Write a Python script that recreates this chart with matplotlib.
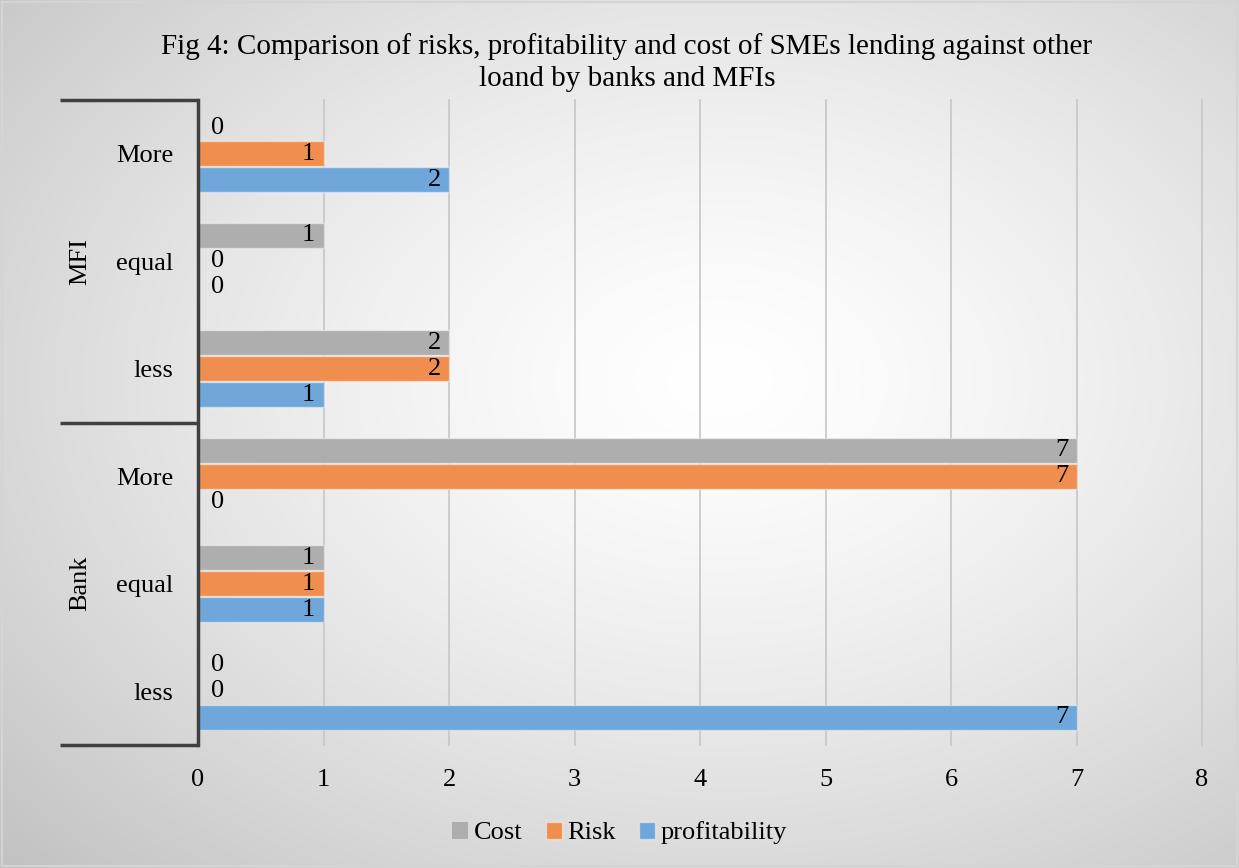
import numpy as np
import matplotlib
matplotlib.use("Agg")
import matplotlib.pyplot as plt
from matplotlib.patches import Rectangle

plt.rcParams['font.family'] = ['Liberation Serif', 'DejaVu Serif']

# data, top to bottom as shown in the chart
groups = ["MFI", "Bank"]
levels = ["More", "equal", "less"]
cost = [0, 1, 2, 7, 1, 0]
risk = [1, 0, 2, 7, 1, 0]
profitability = [2, 0, 1, 0, 1, 7]
series_names = ["Cost", "Risk", "profitability"]
colors = ["#AEAEAE", "#EF8E4E", "#6FA7DA"]
xticks = list(range(0, 9))

title = ("Fig 4: Comparison of risks, profitability and cost of SMEs lending against other\n"
         "loand by banks and MFIs")

fs = 19

fig = plt.figure(figsize=(12.39, 8.68), dpi=100)

# radial gradient background
bg = fig.add_axes([0, 0, 1, 1], zorder=-10)
yy, xx = np.mgrid[0:868, 0:1239]
r = np.sqrt(((xx - 720) / 1239) ** 2 + ((yy - 380) / 868) ** 2)
shade = 1.0 - 0.24 * np.clip(r / 0.8, 0, 1) ** 1.4
bg.imshow(np.dstack([shade] * 3), aspect="auto", extent=[0, 1, 0, 1])
bg.add_patch(Rectangle((0.002, 0.002), 0.996, 0.996, fill=False, ec="#d4d4d4", lw=1.5))
bg.set_axis_off()

ax = fig.add_axes([198 / 1239, 1 - 745 / 868, (1202 - 198) / 1239, (745 - 100) / 868])
ax.set_facecolor("none")

n = len(cost)
ypos = np.arange(n)[::-1]  # top category at highest y
step = 0.242
h = 0.232
all_series = [cost, risk, profitability]
offsets = [step, 0, -step]
handles = []
for vals, off, col, name in zip(all_series, offsets, colors, series_names):
    lws = [0 if v == 0 else 1 for v in vals]
    b = ax.barh(ypos + off, vals, height=h, color=col, edgecolor=(1, 1, 1, 0.45),
                linewidth=lws, label=name, zorder=3)
    handles.append(b)
    for y, v in zip(ypos + off, vals):
        if v == 0:
            ax.annotate(str(v), (0, y), xytext=(9, 0), textcoords="offset points",
                        ha="left", va="center", fontsize=fs, zorder=4)
        else:
            ax.annotate(str(v), (v, y), xytext=(-6, 0), textcoords="offset points",
                        ha="right", va="center", fontsize=fs, zorder=4)

ax.set_xlim(0, 8)
ax.set_ylim(-0.5, n - 0.5)
ax.set_xticks(xticks)
ax.set_xticklabels([str(t) for t in xticks], fontsize=fs)
ax.tick_params(axis="x", length=0, pad=17)
for t in xticks[1:]:
    ax.axvline(t, color="#c6c6c6", linewidth=1.2, zorder=0, clip_on=False)

ax.set_yticks(ypos)
ax.set_yticklabels(levels * len(groups), fontsize=fs)
ax.tick_params(axis="y", length=0, pad=18)

for s in ["top", "right", "bottom"]:
    ax.spines[s].set_visible(False)
ax.spines["left"].set_color("#404040")
ax.spines["left"].set_linewidth(2.5)
ax.spines["left"].set_zorder(5)

# multi-level category separators and group labels
trans = ax.get_yaxis_transform()
x_left = (60 - 198) / (1202 - 198)
for yb in [n - 0.5, n / 2 - 0.5, -0.5]:
    ax.plot([x_left, 0], [yb, yb], color="#404040", lw=2.5, transform=trans,
            clip_on=False, solid_capstyle="butt")
x_grp = (80 - 198) / (1202 - 198)
for i, g in enumerate(groups):
    yc = ypos[i * 3 + 1]
    ax.text(x_grp, yc, g, rotation=90, ha="center", va="center", fontsize=fs,
            transform=trans)

fig.text(627 / 1239, 1 - 63 / 868, title, ha="center", va="center", fontsize=21,
         linespacing=1.3)

fig.legend(handles, series_names, loc="center", bbox_to_anchor=(0.5, 1 - 833 / 868),
           ncol=3, frameon=False, fontsize=fs, handlelength=0.6, handleheight=0.6,
           handletextpad=0.2, columnspacing=0.9)

fig.savefig("out.png", dpi=100)
